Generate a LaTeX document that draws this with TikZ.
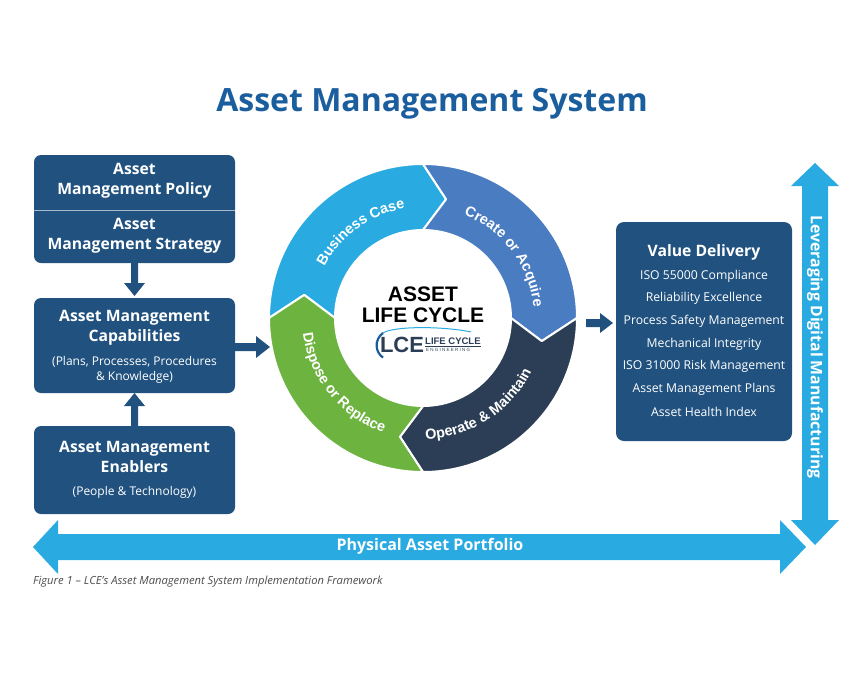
\documentclass[tikz,border=0pt]{standalone}
\usepackage{fontspec}
\setmainfont{Open Sans}
\newfontfamily\arialf{Liberation Sans}
\usetikzlibrary{decorations.text}
\definecolor{boxblue}{HTML}{21527F}
\definecolor{titleblue}{HTML}{1B5E9E}
\definecolor{lblue}{HTML}{29ABE2}
\definecolor{cblue}{HTML}{4A7CC2}
\definecolor{dblue}{HTML}{2C3E55}
\definecolor{green}{HTML}{6DB33F}
\newcommand{\rfont}{\arialf\bfseries\fontsize{14.5}{14.5}\selectfont\color{white}}
\begin{document}
\begin{tikzpicture}[x=1pt,y=1pt,
  wt/.style={text=white,align=center,font=\bfseries\fontsize{15.7}{20}\selectfont},
  st/.style={text=white,align=center,font=\fontsize{12}{15.5}\selectfont},
  vt/.style={text=white,font=\fontsize{12.2}{14}\selectfont},
  seg/.style={draw=white,line width=2pt,line join=round}]
\useasboundingbox (0,0) rectangle (864,-691);
% title
\node[text=titleblue,font=\bfseries\fontsize{32}{34}\selectfont] (title) at (432,-104) {Asset Management System};
% left boxes
\fill[boxblue,rounded corners=7pt] (34,-155) rectangle (235,-263);
\draw[white!60!boxblue,line width=0.6pt] (34,-210) -- (235,-210);
\node[wt] (pol) at (134.5,-181) {Asset\\Management Policy};
\node[wt] (str) at (134.5,-236) {Asset\\Management Strategy};
\fill[boxblue,rounded corners=7pt] (34,-298) rectangle (235,-393);
\node[wt] (cap) at (134.5,-328) {Asset Management\\Capabilities};
\node[st] (caps) at (134.5,-370) {(Plans, Processes, Procedures\\\& Knowledge)};
\fill[boxblue,rounded corners=7pt] (34,-426) rectangle (235,-514);
\node[wt] (ena) at (134.5,-457) {Asset Management\\Enablers};
\node[st] (enas) at (134.5,-492) {(People \& Technology)};
% small arrows
\fill[boxblue] (131,-263) -- (138,-263) -- (138,-283) -- (145,-283) -- (134.5,-296) -- (124,-283) -- (131,-283) -- cycle;
\fill[boxblue] (131,-426) -- (138,-426) -- (138,-406) -- (145,-406) -- (134.5,-393) -- (124,-406) -- (131,-406) -- cycle;
\fill[boxblue] (235,-343) -- (256,-343) -- (256,-336) -- (270,-347) -- (256,-358) -- (256,-351) -- (235,-351) -- cycle;
\fill[boxblue] (586,-319) -- (600,-319) -- (600,-313) -- (613,-323) -- (600,-333) -- (600,-327) -- (586,-327) -- cycle;
% ring
\begin{scope}[shift={(423,-318)}]
\foreach \a/\bb/\c in {180/90/lblue,90/0/cblue,0/-90/dblue,-90/-180/green}{
  \filldraw[seg,fill=\c] (\a:154) arc[start angle=\a,end angle=\bb,radius=154]
    -- (\bb-11:121) -- (\bb:88) arc[start angle=\bb,end angle=\a,radius=88]
    -- (\a-11:121) -- cycle;
}
\fill[white] (0,0) circle (87);
\path[decorate,decoration={text along path,text align=center,text={|\rfont|Business Case}}] (170:111) arc[start angle=170,end angle=82,radius=111];
\path[decorate,decoration={text along path,text align=center,text={|\rfont|Create or Acquire}}] (82:111) arc[start angle=82,end angle=-8,radius=111];
\path[decorate,decoration={text along path,text align=center,text={|\rfont|Operate {\&} Maintain}}] (-105:121) arc[start angle=-105,end angle=-10,radius=121];
\path[decorate,decoration={text along path,text align=center,text={|\rfont|Dispose or Replace}}] (170:121) arc[start angle=170,end angle=268,radius=121];
\node[font=\arialf\bfseries\fontsize{21}{21}\selectfont,align=center] (alc) at (0,13) {ASSET\\LIFE CYCLE};
% logo
\draw[titleblue,line width=2.2pt] (-40,-15) arc[start angle=125,end angle=235,radius=15];
\draw[lblue,line width=1pt] (-40,-15) .. controls (-30,-8) and (20,-8) .. (48,-14);
\node[font=\arialf\bfseries\fontsize{22}{22}\selectfont,text=dblue,inner sep=0pt] (lce) at (-21,-27) {LCE};
\node[font=\arialf\bfseries\fontsize{9.5}{9.5}\selectfont,text=dblue,inner sep=0pt,anchor=west] (lc) at (2,-24) {\underline{LIFE CYCLE}};
\node[font=\arialf\fontsize{4.5}{4.5}\selectfont,text=dblue,inner sep=0pt,anchor=west] (eng) at (3,-32) {E N G I N E E R I N G};
\end{scope}
% value box
\fill[boxblue,rounded corners=8pt] (616,-222) rectangle (792,-441);
\node[wt] (vd) at (704,-252) {Value Delivery};
\node[vt] (v1) at (704,-276) {ISO 55000 Compliance};
\node[vt] (v2) at (704,-298.5) {Reliability Excellence};
\node[vt] (v3) at (704,-321) {Process Safety Management};
\node[vt] (v4) at (704,-344) {Mechanical Integrity};
\node[vt] (v5) at (704,-366.5) {ISO 31000 Risk Management};
\node[vt] (v6) at (704,-389) {Asset Management Plans};
\node[vt] (v7) at (704,-411.5) {Asset Health Index};
% big arrows
\fill[lblue] (802,-186) -- (791,-186) -- (815,-163) -- (839,-186) -- (828,-186) -- (828,-520) -- (839,-520) -- (815,-545) -- (791,-520) -- (802,-520) -- cycle;
\node[rotate=-90,text=white,font=\bfseries\fontsize{15.8}{16}\selectfont] (ldm) at (815,-347) {Leveraging Digital Manufacturing};
\fill[lblue] (33,-547) -- (58,-520) -- (58,-534) -- (780,-534) -- (780,-520) -- (806,-547) -- (780,-574) -- (780,-560) -- (58,-560) -- (58,-574) -- cycle;
\node[text=white,font=\bfseries\fontsize{16}{16}\selectfont] (pap) at (430,-546) {Physical Asset Portfolio};
\node[anchor=west,text=black!70,font=\itshape\fontsize{11.2}{12}\selectfont,inner sep=0pt] (cap1) at (33,-582) {Figure 1 – LCE’s Asset Management System Implementation Framework};
\end{tikzpicture}
\end{document}
